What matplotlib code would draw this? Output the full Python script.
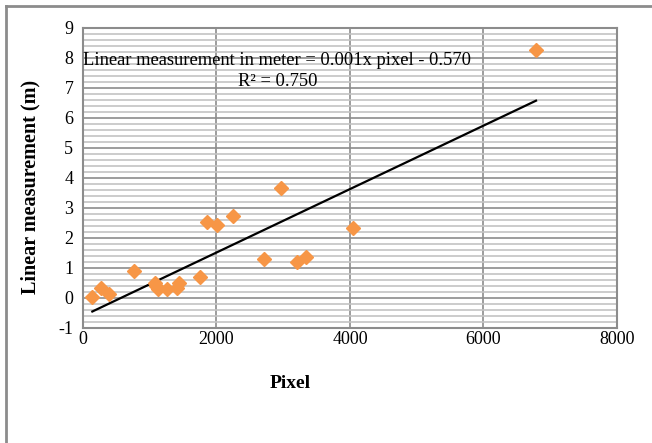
"""Linear measurement vs pixel scatter with linear trendline."""
import numpy as np
import matplotlib
matplotlib.use("Agg")
import matplotlib.pyplot as plt
from matplotlib.lines import Line2D
from matplotlib.ticker import MultipleLocator

pixel = [140, 265, 395, 764, 1079, 1100, 1129, 1263, 1403, 1443, 1753,
         1853, 2013, 2252, 2712, 2966, 3201, 3335, 4050, 6787]
meters = [0.02, 0.32, 0.12, 0.91, 0.49, 0.40, 0.29, 0.29, 0.32, 0.51, 0.71,
          2.53, 2.42, 2.74, 1.31, 3.67, 1.19, 1.38, 2.33, 8.27]

equation = "Linear measurement in meter = 0.001x pixel - 0.570"
r2_label = "R² = 0.750"

plt.rcParams["font.family"] = ["Liberation Serif", "DejaVu Serif"]
plt.rcParams["axes.unicode_minus"] = False

fig = plt.figure(figsize=(6.52, 4.43), dpi=100)
ax = fig.add_axes([0.1273, 0.2596, 0.819, 0.6772])

ax.set_xlim(0, 8000)
ax.set_ylim(-1, 9)
ax.xaxis.set_major_locator(MultipleLocator(2000))
ax.yaxis.set_major_locator(MultipleLocator(1))
ax.yaxis.set_minor_locator(MultipleLocator(0.2))

ax.grid(True, which="major", color="#8c8c8c", lw=1.2)
ax.grid(True, which="minor", axis="y", color="#c4c4c4", lw=1.2)
ax.set_axisbelow(True)
for s in ax.spines.values():
    s.set_color("#8c8c8c")
    s.set_linewidth(1.5)
ax.tick_params(which="both", length=0, labelsize=13)
ax.tick_params(axis="y", pad=7)
ax.tick_params(axis="x", pad=2)

# trendline fitted to the points
slope, icpt = np.polyfit(pixel, meters, 1)
xs = np.array([min(pixel), max(pixel)])
ax.plot(xs, slope * xs + icpt, color="black", lw=1.6, zorder=2)

ax.plot(pixel, meters, "D", color="#F79646", ms=7, mec="#F79646", zorder=3)

ax.text(0.363, 0.893, equation, transform=ax.transAxes, ha="center",
        va="center", fontsize=13.3)
ax.text(0.365, 0.82, r2_label, transform=ax.transAxes, ha="center",
        va="center", fontsize=13.3)

ax.set_ylabel("Linear measurement (m)", fontsize=14.5, fontweight="bold")
ax.yaxis.set_label_coords(-0.08, 0.47)
fig.text(290 / 652, 1 - 383 / 443, "Pixel", ha="center", va="center",
         fontsize=14, fontweight="bold")

# outer chart frame (top and left edges visible)
fig.add_artist(Line2D([6 / 652, 6 / 652], [0, 1 - 6 / 443], color="#8c8c8c", lw=2))
fig.add_artist(Line2D([6 / 652, 1], [1 - 6 / 443, 1 - 6 / 443], color="#8c8c8c", lw=2))

fig.savefig("out.png", dpi=100)
